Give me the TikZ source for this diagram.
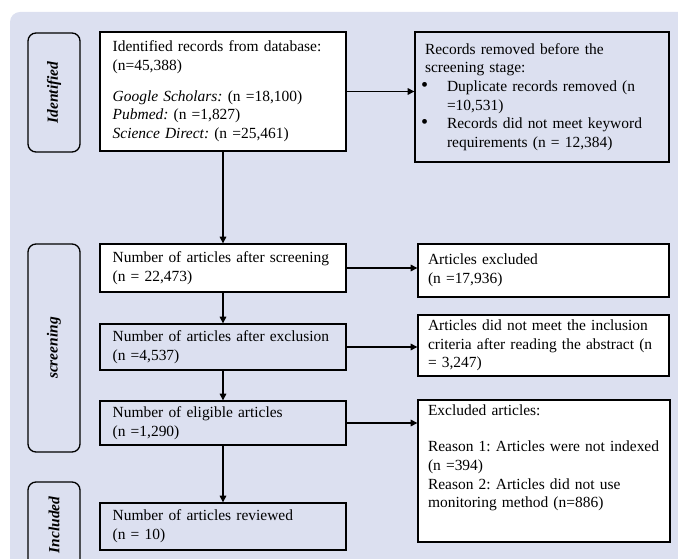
\documentclass[tikz,border=0pt]{standalone}
\usepackage{fontspec}
\setmainfont{Liberation Serif}
\usetikzlibrary{arrows.meta}
\definecolor{panel}{RGB}{220,224,240}
\newcommand{\bul}{\makebox[16.5pt][l]{\hspace{-3pt}\scalebox{1.3}{\textbullet}}}
\frenchspacing
\begin{document}
\begin{tikzpicture}[x=0.75pt, y=-0.75pt,
    box/.style={draw, line width=1pt, rectangle, align=left, inner xsep=9.5pt, inner ysep=3pt,
      font=\fontsize{11.6}{14}\selectfont},
    leftbox/.style={box, text width=165.5pt},
    rightbox/.style={box, inner xsep=7.5pt},
    stage/.style={draw, line width=1pt, rounded corners=6pt, rotate=90, minimum height=39pt,
      font=\fontsize{11.6}{14}\selectfont\bfseries\itshape},
    arr/.style={-{Triangle[length=5pt,width=5pt]}, line width=0.8pt}]
        \clip (0,0) rectangle (678,559);

        % panel
        \fill[panel, rounded corners=7.5pt] (10,12) rectangle (700,600);

        % stages
        \node[stage, minimum width=89.25pt] (identified) at (54,92.5) {Identified};
        \node[stage, minimum width=156pt] (screening) at (54,348) {screening};
        \node[stage, minimum width=64.5pt] (included) at (54,525) {Included};

        % main column
        \node[leftbox, fill=white, minimum height=89.25pt] (ident) at (223,91.5)
            {Identified records from database:\\(n=45,388)\\[9pt]
             \textit{Google Scholars:} (n =18,100)\\\textit{Pubmed:} (n =1,827)\\
             \textit{Science Direct:} (n =25,461)};
        \node[leftbox, fill=white, minimum height=36pt] (screen) at (223,268)
            {\mbox{Number of articles after screening}\\(n = 22,473)};
        \node[leftbox, minimum height=34.5pt] (exclu) at (223,347)
            {\mbox{Number of articles after exclusion}\\(n =4,537)};
        \node[leftbox, minimum height=33pt] (elig) at (223,423)
            {Number of eligible articles\\(n =1,290)};
        \node[leftbox, minimum height=35.25pt] (review) at (223,526.5)
            {Number of articles reviewed\\(n = 10)};

        % side column
        \node[rightbox, text width=175.5pt, minimum height=97.5pt] (removed) at (542,97)
            {Records removed before the\\screening stage:\\
             \bul Duplicate records removed (n\\\hspace*{16.5pt}=10,531)\\
             \bul Records did not meet keyword\\\hspace*{16.5pt}requirements (n = 12,384)};
        \node[rightbox, fill=white, text width=173.25pt, minimum height=39.75pt] (excl) at (543.5,270.5)
            {Articles excluded\\(n =17,936)};
        \node[rightbox, fill=white, text width=173.25pt, minimum height=45.75pt] (incl) at (543.5,345.5)
            {Articles did not meet the inclusion\\\mbox{criteria after reading the abstract (n}\\= 3,247)};
        \node[rightbox, fill=white, text width=174pt, text height=9pt, text depth=91.5pt] (reasons) at (544,471)
            {Excluded articles:\\[13pt]\mbox{Reason 1: Articles were not indexed}\\(n =394)\\
             Reason 2: Articles did not use\\monitoring method (n=886)};

        % arrows
        \draw[arr] (ident.east) -- (ident.east -| removed.west);
        \draw[arr] (ident.south) -- (screen.north);
        \draw[arr] (screen.east) -- (screen.east -| excl.west);
        \draw[arr] (screen.south) -- (exclu.north);
        \draw[arr] (exclu.east) -- (exclu.east -| incl.west);
        \draw[arr] (exclu.south) -- (elig.north);
        \draw[arr] (elig.east) -- (elig.east -| reasons.west);
        \draw[arr] (elig.south) -- (review.north);

\end{tikzpicture}
\end{document}
